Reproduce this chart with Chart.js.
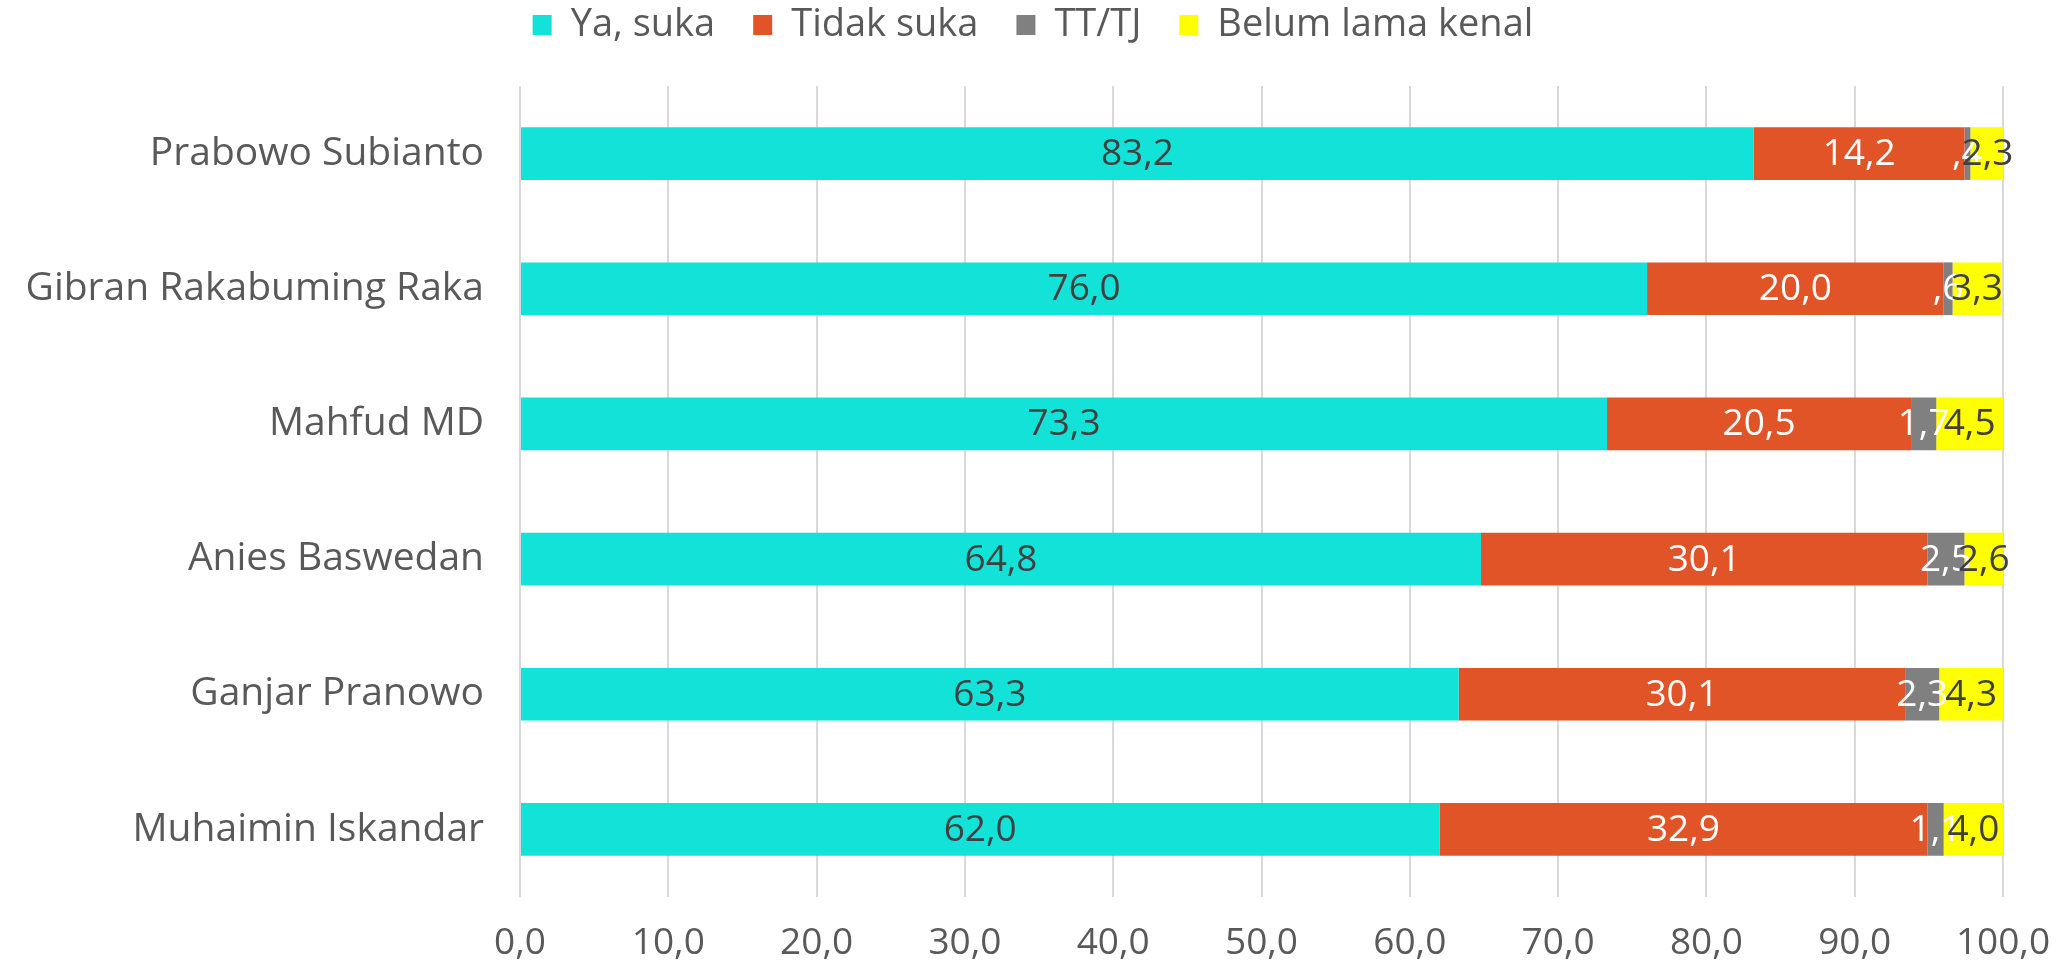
<!DOCTYPE html>
<html>
<head>
<meta charset="utf-8">
<script src="https://cdn.jsdelivr.net/npm/chart.js@4/dist/chart.umd.min.js"></script>
<style>
html,body{margin:0;padding:0;background:#fff;}
#wrap{width:2066px;height:964px;position:relative;}
</style>
</head>
<body>
<div id="wrap"><canvas id="c"></canvas></div>
<script>
const categories = ["Prabowo Subianto","Gibran Rakabuming Raka","Mahfud MD","Anies Baswedan","Ganjar Pranowo","Muhaimin Iskandar"];
const yaSuka = [83.2, 76.0, 73.3, 64.8, 63.3, 62.0];
const tidakSuka = [14.2, 20.0, 20.5, 30.1, 30.1, 32.9];
const ttTj = [0.4, 0.6, 1.7, 2.5, 2.3, 1.1];
const belumLama = [2.3, 3.3, 4.5, 2.6, 4.3, 4.0];
const seriesNames = ["Ya, suka","Tidak suka","TT/TJ","Belum lama kenal"];
const xTicks = [0,10,20,30,40,50,60,70,80,90,100];

const FONT = "'Open Sans', sans-serif";
const colors = ["#13E2D8","#E05427","#808080","#FFFF00"];
const labelColors = ["#404040","#FFFFFF","#FFFFFF","#404040"];

function fmtLabel(v){
  let s = v.toFixed(1).replace('.', ',');
  if (v < 1) s = s.replace(/^0/, '');
  return s;
}

const legendSpacer = {
  id: 'legendSpacer',
  afterInit(chart){
    const lg = chart.legend;
    if (!lg) return;
    const orig = lg.fit;
    lg.fit = function(){
      orig.call(this);
      this.height += 32;
    };
  }
};

const dataLabelPlugin = {
  id: 'dataLabels',
  afterDatasetsDraw(chart){
    const ctx = chart.ctx;
    ctx.save();
    ctx.font = "37px " + FONT;
    ctx.textAlign = 'center';
    ctx.textBaseline = 'middle';
    chart.data.datasets.forEach((ds, di) => {
      const meta = chart.getDatasetMeta(di);
      meta.data.forEach((el, i) => {
        const p = el.getProps(['x','y','base'], true);
        const cx = (p.x + p.base) / 2;
        ctx.fillStyle = labelColors[di];
        ctx.fillText(fmtLabel(ds.data[i]), cx, p.y + 1);
      });
    });
    ctx.restore();
  }
};

const seriesData = [yaSuka, tidakSuka, ttTj, belumLama];

new Chart(document.getElementById('c'), {
  type: 'bar',
  data: {
    labels: categories,
    datasets: seriesNames.map((n, i) => ({
      label: n,
      data: seriesData[i],
      backgroundColor: colors[i],
      borderWidth: 0,
      categoryPercentage: 1,
      barPercentage: 0.39
    }))
  },
  options: {
    indexAxis: 'y',
    responsive: true,
    maintainAspectRatio: false,
    animation: false,
    devicePixelRatio: 1,
    layout: { padding: { left: 0, right: 0, top: -32, bottom: 0 } },
    plugins: {
      tooltip: { enabled: false },
      legend: {
        position: 'top',
        labels: {
          font: { family: FONT, size: 38 },
          color: '#595959',
          boxWidth: 19,
          boxHeight: 20,
          padding: 38
        }
      }
    },
    scales: {
      x: {
        stacked: true,
        min: 0, max: 100,
        afterBuildTicks(scale){ scale.ticks = xTicks.map(v => ({value: v})); },
        ticks: {
          font: { family: FONT, size: 37 },
          color: '#595959',
          padding: 24,
          maxRotation: 0,
          callback: (v) => Number(v).toFixed(1).replace('.', ',')
        },
        grid: { color: '#D9D9D9', lineWidth: 2, drawTicks: false },
        border: { display: false },
        afterFit(scale){ scale.height = 67; scale.paddingRight = 63; }
      },
      y: {
        stacked: true,
        ticks: {
          font: { family: FONT, size: 39 },
          color: '#595959',
          padding: 36
        },
        grid: { display: false, drawTicks: false },
        border: { display: false },
        afterFit(scale){ scale.width = 520; }
      }
    }
  },
  plugins: [legendSpacer, dataLabelPlugin]
});
</script>
</body>
</html>
